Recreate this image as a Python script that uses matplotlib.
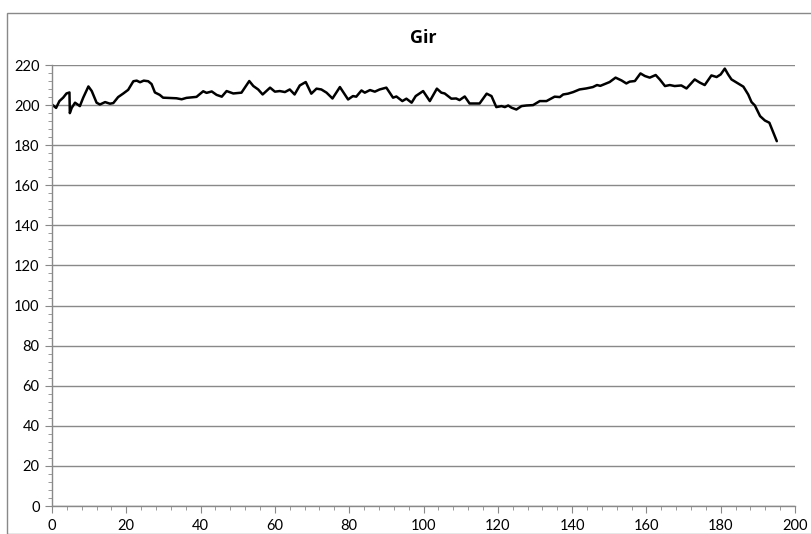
import matplotlib
matplotlib.use("Agg")
import matplotlib.pyplot as plt
from matplotlib.ticker import MultipleLocator
from matplotlib.patches import Rectangle

title = "Gir"
x_vals = [0, 1.1, 2, 3, 3.9, 4.7, 4.8, 5.3, 6.2, 7.5, 8.4, 9.8, 10.7, 12, 12.9, 14.3,
          15.6, 16.5, 17.8, 19.2, 20.5, 21.9, 22.8, 23.7, 24.7, 25.9, 26.8, 27.7, 29,
          29.9, 33.5, 34.9, 36.2, 38.9, 40.7, 41.6, 43, 44.3, 45.7, 47, 48.8, 51, 53.1,
          54.2, 55.5, 56.7, 58.7, 60, 61.3, 62.7, 64, 65.3, 66.7, 68.3, 69.8, 71.2,
          72.5, 73.9, 75.5, 77.5, 78.5, 79.7, 81, 81.9, 83.3, 84.2, 85.6, 86.9, 88.2,
          90, 91.8, 92.7, 94.3, 95.4, 96.8, 97.9, 99.9, 101.7, 103.6, 104.8, 105.7,
          107.5, 108.8, 109.7, 111.1, 112.4, 115.1, 117, 118.3, 119.6, 121, 121.9,
          122.8, 123.7, 125, 126.4, 127.7, 129.5, 131.3, 133.1, 135.3, 136.7, 137.6,
          138.9, 140.3, 142, 143.8, 145.6, 146.7, 147.6, 148.8, 150.1, 151.7, 153.3,
          154.6, 155.5, 156.9, 158.4, 159.6, 160.9, 162.5, 163.6, 165, 166.3, 167.6,
          169.4, 170.8, 173, 174.4, 175.7, 177.5, 178.9, 180, 181.1, 182, 182.9, 184.3,
          186.1, 187.4, 188.3, 189.2, 190.6, 191.9, 193.1, 194.2, 195.1]
y_vals = [200.3, 198.6, 202, 203.7, 205.8, 206.3, 196, 198.6, 201.2, 199.5, 203.7, 209.3,
          207, 201.2, 200.3, 201.5, 200.7, 201, 204, 205.8, 207.6, 211.9, 212.2, 211.4,
          212.2, 211.9, 210.5, 206.3, 205.1, 203.7, 203.4, 202.9, 203.6, 204.1, 206.9,
          206.1, 206.8, 205.1, 204.2, 207, 205.8, 206.2, 212, 209.5, 207.8, 205.3, 208.7,
          206.7, 207, 206.5, 207.8, 205.3, 209.8, 211.5, 205.7, 208.2, 207.8, 206.2,
          203.3, 209, 206.2, 202.8, 204.5, 204.2, 207.3, 206.2, 207.5, 206.7, 207.8,
          208.7, 203.7, 204.3, 202, 203.2, 201.2, 204.5, 207, 202, 208.2, 206.2, 205.8,
          203.2, 203.3, 202.5, 204.3, 200.8, 200.8, 205.7, 204.5, 199, 199.5, 199,
          199.8, 198.7, 197.8, 199.5, 199.8, 200, 202, 202, 204.2, 204, 205.3, 205.7,
          206.5, 207.8, 208.3, 209, 210, 209.6, 210.5, 211.5, 213.7, 212.3, 210.8, 211.7,
          212, 215.8, 214.5, 213.7, 215, 212.8, 209.5, 210, 209.5, 209.8, 208.3, 212.8,
          211.2, 210, 214.8, 214, 215.3, 218.2, 215.3, 212.8, 211.2, 209.2, 205.3, 201.5,
          199.8, 194.5, 192.3, 191.2, 186.2, 182]
x_range = (0, 200)
y_range = (0, 220)

plt.rcParams['font.family'] = ['Lato', 'DejaVu Sans']
W, H = 811, 534
fig = plt.figure(figsize=(W / 100, H / 100), dpi=100)
fig.patches.append(Rectangle((7 / W, 0), 1.2, (H - 13) / H, transform=fig.transFigure,
                             fill=False, edgecolor='#898989', linewidth=1))
ax = fig.add_axes([52 / W, (H - 506) / H, (795 - 52) / W, (506 - 65) / H])

grid_c = '#898989'
ax.plot(x_vals, y_vals, color='black', linewidth=1.8, solid_joinstyle='round',
        solid_capstyle='round')
ax.set_xlim(*x_range)
ax.set_ylim(*y_range)
ax.xaxis.set_major_locator(MultipleLocator(20))
ax.yaxis.set_major_locator(MultipleLocator(20))
ax.xaxis.set_minor_locator(MultipleLocator(4))
ax.yaxis.set_minor_locator(MultipleLocator(4))
ax.grid(axis='y', which='major', color=grid_c, linewidth=1)
ax.set_axisbelow(True)
for s in ['top', 'right']:
    ax.spines[s].set_visible(False)
for s in ['left', 'bottom']:
    ax.spines[s].set_color(grid_c)
    ax.spines[s].set_linewidth(1)
ax.tick_params(which='major', length=5, color=grid_c, labelsize=10.5, pad=4, direction='out')
ax.tick_params(which='minor', length=3, color=grid_c, direction='out')
ax.set_title(title, fontsize=13, fontweight='bold', pad=16,
             family=['Open Sans', 'DejaVu Sans'])

fig.savefig('out.png', dpi=100)
